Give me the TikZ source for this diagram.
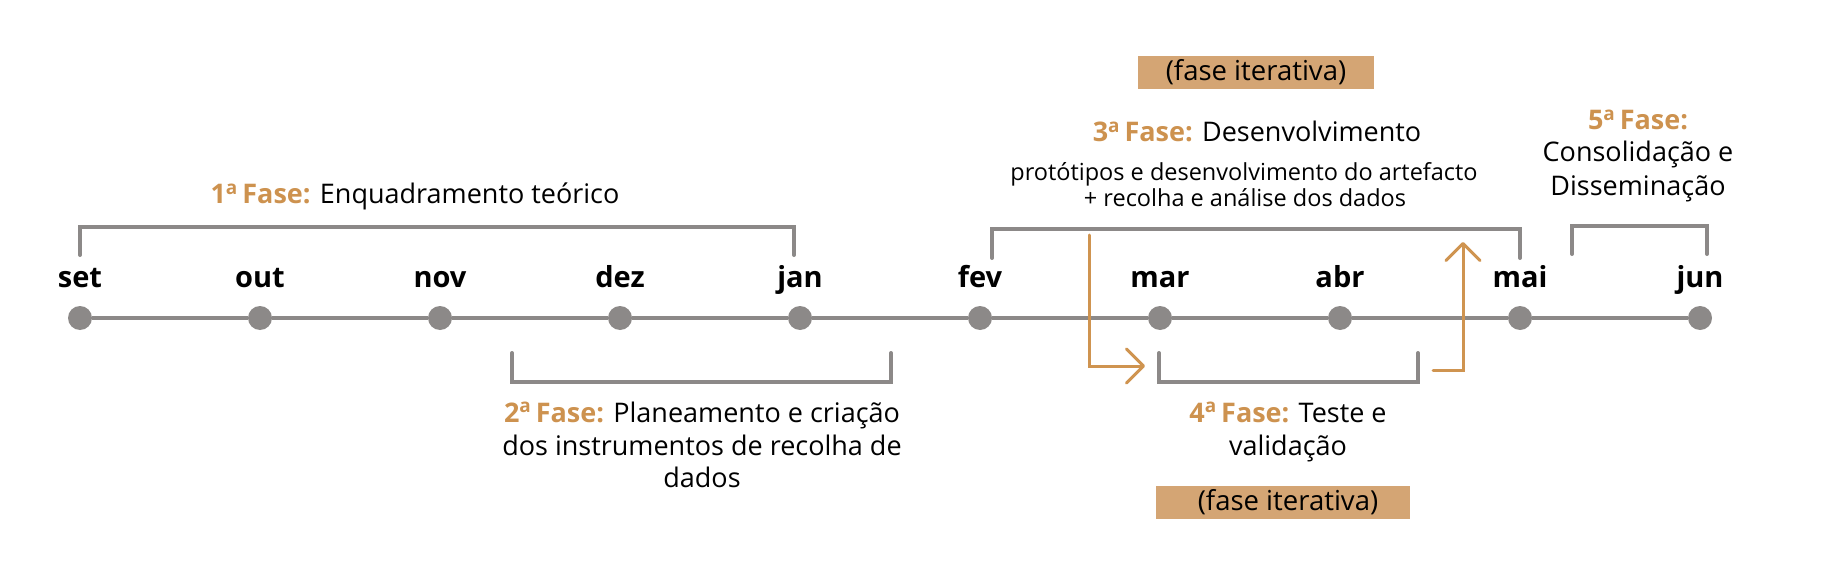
\documentclass[tikz,border=0pt]{standalone}
\usepackage{fontspec}
\setmainfont{Open Sans}
\usetikzlibrary{arrows.meta}
\definecolor{tlgray}{HTML}{8C8988}
\definecolor{fasecol}{HTML}{CD924F}
\definecolor{boxcol}{HTML}{D4A574}
\definecolor{arrcol}{HTML}{CF9450}
\newcommand{\fase}[1]{\textcolor{fasecol}{\bfseries #1\textsuperscript{a}\,Fase:}}
\begin{document}
\begin{tikzpicture}[x=1pt,y=-1pt,
  dot/.style={circle,fill=tlgray,minimum size=24pt,inner sep=0pt},
  month/.style={anchor=base,font=\fontsize{29}{32}\selectfont\bfseries,inner sep=0pt},
  phase/.style={anchor=base,font=\fontsize{27}{30}\selectfont,inner sep=0pt},
  smalltxt/.style={anchor=base,font=\fontsize{23.5}{25}\selectfont,inner sep=0pt},
  bracket/.style={draw=tlgray,line width=4pt,line cap=round},
  iter/.style={draw=arrcol,line width=3pt,line cap=round,-{Straight Barb[length=17pt,width=34pt,round]}},
  tag/.style={fill=boxcol,inner sep=0pt,minimum height=33pt,font=\fontsize{27.5}{30}\selectfont}
]
\useasboundingbox (0,0) rectangle (1829,575);
% timeline dots and months
\foreach \m [count=\i from 0] in {set,out,nov,dez,jan,fev,mar,abr,mai,jun}{
  \node[dot] (d\i) at ({80+180*\i},318) {};
  \node[month] (m\i) at ({80+180*\i},287) {\m};
}
\draw[tlgray,line width=4pt] (d0) -- (d1) -- (d2) -- (d3) -- (d4) -- (d5) -- (d6) -- (d7) -- (d8) -- (d9);
% brackets
\draw[bracket] (80,255) -- (80,227) -- (794,227) -- (794,255);
\draw[bracket] (512,353) -- (512,382) -- (891,382) -- (891,353);
\draw[bracket] (992,258) -- (992,229) -- (1520,229) -- (1520,258);
\draw[bracket] (1159,353) -- (1159,382) -- (1418,382) -- (1418,353);
\draw[bracket] (1572,254) -- (1572,226) -- (1707,226) -- (1707,254);
% iterative arrows
\coordinate (a1s) at (1089,235);
\coordinate (a1c) at (1089,366);
\coordinate (a1e) at (1145,366);
\coordinate (a2s) at (1433,370);
\coordinate (a2c) at (1463,370);
\coordinate (a2e) at (1463,242);
\draw[iter] (a1s) -- (a1c) -- (a1e);
\draw[iter] (a2s) -- (a2c) -- (a2e);
% tags
\node[tag,minimum width=236pt] (tagtop) at (1256,72.5) {(fase iterativa)};
\node[tag,minimum width=254pt] (tagbot) at (1283,502) {\hspace*{10pt}(fase iterativa)};
% phase texts
\node[phase] (p1) at (415,204) {\fase{1} Enquadramento teórico};
\node[phase] (p2a) at (702,422) {\fase{2} Planeamento e criação};
\node[phase] (p2b) at (702,455) {dos instrumentos de recolha de};
\node[phase] (p2c) at (702,487) {dados};
\node[phase] (p3) at (1257,142) {\fase{3} Desenvolvimento};
\node[smalltxt] (p3a) at (1244,180) {protótipos e desenvolvimento do artefacto};
\node[smalltxt] (p3b) at (1245,207) {+ recolha e análise dos dados};
\node[phase] (p4a) at (1288,422) {\fase{4} Teste e};
\node[phase] (p4b) at (1288,455) {validação};
\node[phase] (p5a) at (1638,130) {\fase{5}};
\node[phase] (p5b) at (1638,162) {Consolidação e};
\node[phase] (p5c) at (1638,195) {Disseminação};
\end{tikzpicture}
\end{document}
